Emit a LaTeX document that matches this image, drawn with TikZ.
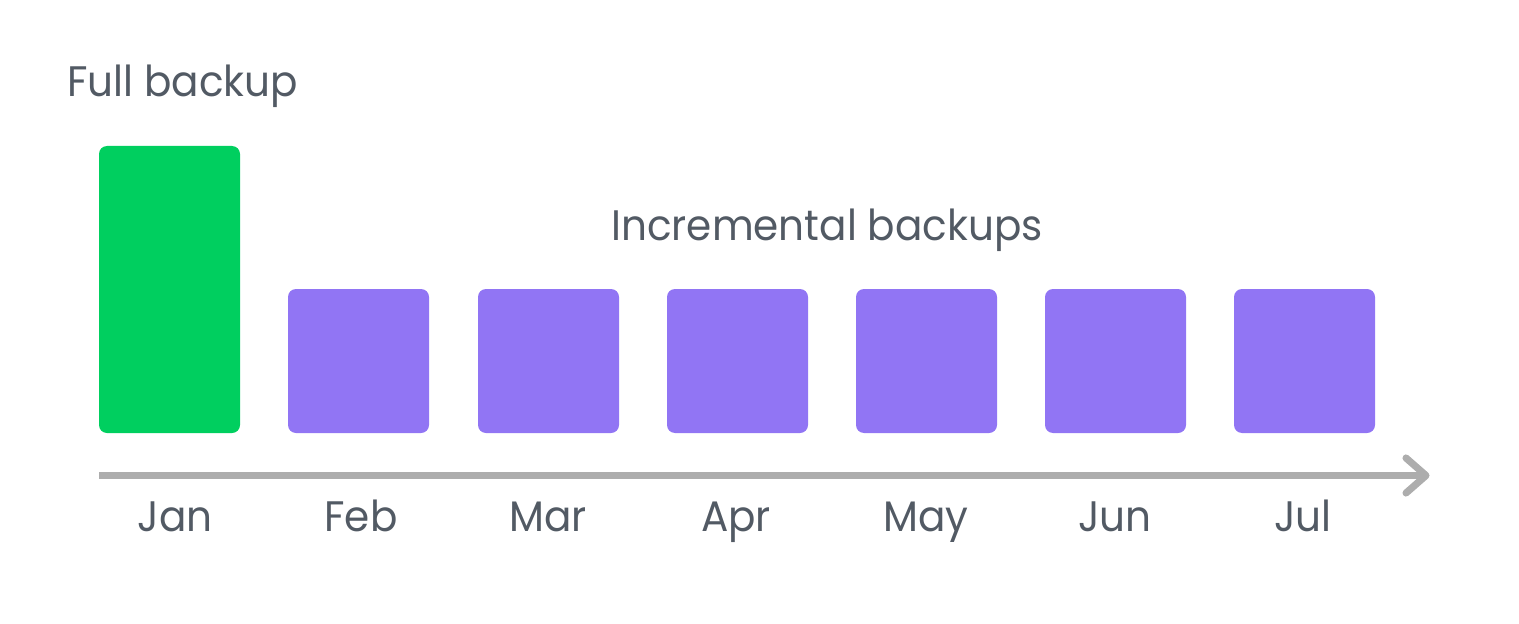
\documentclass[tikz,border=0pt]{standalone}
\usepackage{fontspec}
\setmainfont{Poppins}[FakeStretch=0.95]
\definecolor{txt}{HTML}{525A64}
\definecolor{fullgreen}{HTML}{00CF5F}
\definecolor{incpurple}{HTML}{9175F4}
\definecolor{axisgray}{HTML}{ADADAD}
\tikzset{
  lbl/.style={text=txt,font=\fontsize{32}{38}\selectfont,inner sep=0pt},
  month/.style={lbl,anchor=base},
  fullbox/.style={fill=fullgreen,rounded corners=6pt},
  incbox/.style={fill=incpurple,rounded corners=6pt},
  axis/.style={draw=axisgray,line width=5.3pt,line cap=round,line join=round}
}
\begin{document}
\begin{tikzpicture}[x=0.75pt,y=-0.75pt]
\useasboundingbox (0,0) rectangle (1519,624);
\fill[fullbox] (99,146) rectangle (240,433);
\foreach \x in {288,478,667,856,1045,1234}{
  \fill[incbox] (\x,289) rectangle ++(141,144);
}
\node[lbl,anchor=base west] (full) at (67,97) {Full backup};
\node[lbl,anchor=base west] (inc) at (611,240) {Incremental backups};
\coordinate (start) at (99,475.5);
\coordinate (tip) at (1426,475.5);
\draw[axis,line cap=butt] (start) -- (tip);
\draw[axis] (1406,458) -- (tip) -- (1406,493);
\node[month] (jan) at (175,531) {Jan};
\node[month] (feb) at (361,531) {Feb};
\node[month] (mar) at (548,531) {Mar};
\node[month] (apr) at (736,531) {Apr};
\node[month] (may) at (926,531) {May};
\node[month] (jun) at (1115,531) {Jun};
\node[month] (jul) at (1303,531) {Jul};
\end{tikzpicture}
\end{document}
